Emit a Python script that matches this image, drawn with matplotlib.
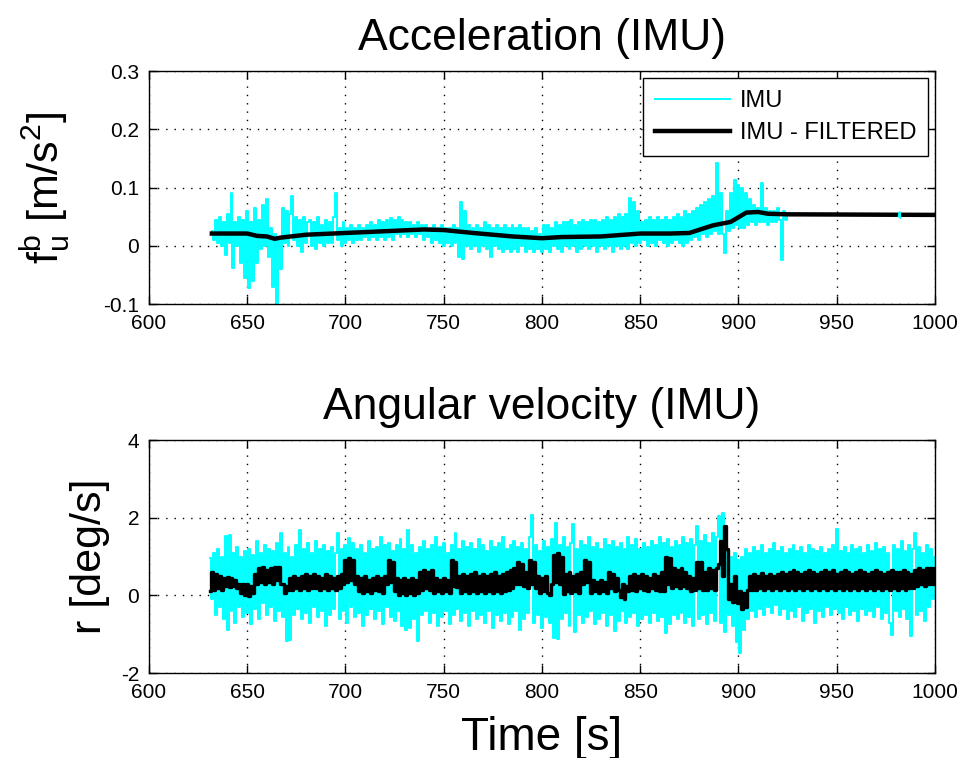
import matplotlib
matplotlib.use("Agg")
import matplotlib.pyplot as plt
import numpy as np

plt.rcParams['font.family'] = ['Liberation Sans', 'DejaVu Sans']
plt.rcParams['mathtext.default'] = 'regular'

# ---------------- data ----------------
acc_t0 = 632  # first sample time [s], samples every 1 s
acc_imu = [
    0.025, 0.01, 0.045, 0.005, 0.05, 0.0, 0.04, -0.015, 0.055, 0.005,
    0.09, -0.038, 0.04, 0.0, 0.05, -0.03, 0.045, -0.055, 0.06, -0.073,
    0.04, -0.06, 0.065, -0.03, 0.045, -0.005, 0.07, 0.0, 0.081, -0.02,
    0.03, -0.07, 0.02, -0.098, 0.015, -0.04, 0.065, 0.005, 0.06, 0.0,
    0.055, 0.086, 0.01, 0.05, 0.0, 0.045, -0.01, 0.05, 0.005, 0.04,
    0.045, 0.0, 0.04, -0.005, 0.05, 0.005, 0.035, 0.0, 0.045, 0.005,
    0.04, 0.005, 0.05, 0.091, 0.01, 0.03, 0.0, 0.04, 0.005, 0.03,
    0.01, 0.035, 0.005, 0.03, 0.01, 0.035, 0.01, 0.03, 0.015, 0.035,
    0.01, 0.04, 0.015, 0.035, 0.01, 0.045, 0.015, 0.04, 0.01, 0.045,
    0.015, 0.048, 0.01, 0.045, 0.02, 0.05, 0.015, 0.045, 0.02, 0.04,
    0.015, 0.04, 0.02, 0.035, 0.015, 0.04, 0.02, 0.035, 0.01, 0.035,
    0.015, 0.03, 0.005, 0.035, 0.01, 0.03, 0.005, 0.035, 0.0, 0.03,
    0.005, 0.03, 0.0, 0.035, 0.005, 0.03, -0.02, 0.076, -0.022, 0.06,
    0.0, 0.035, -0.005, 0.03, 0.0, 0.035, -0.01, 0.03, 0.0, 0.04,
    -0.005, 0.035, -0.02, 0.03, 0.0, 0.035, -0.005, 0.03, -0.01, 0.035,
    -0.005, 0.03, -0.01, 0.035, -0.005, 0.03, -0.01, 0.035, 0.0, 0.03,
    -0.01, 0.03, -0.005, 0.025, -0.01, 0.03, -0.005, 0.02, -0.01, 0.035,
    -0.005, 0.035, -0.01, 0.03, 0.0, 0.04, -0.005, 0.035, -0.01, 0.04,
    0.0, 0.04, -0.005, 0.045, 0.0, 0.035, -0.01, 0.04, -0.005, 0.045,
    0.0, 0.04, -0.005, 0.045, 0.0, 0.045, -0.01, 0.04, 0.0, 0.045,
    -0.005, 0.05, 0.0, 0.045, -0.01, 0.05, 0.0, 0.055, -0.005, 0.05,
    0.0, 0.055, -0.005, 0.082, 0.005, 0.075, 0.0, 0.06, 0.005, 0.04,
    0.01, 0.045, 0.0, 0.05, 0.005, 0.045, 0.0, 0.05, 0.01, 0.045,
    0.005, 0.05, 0.0, 0.045, 0.005, 0.05, 0.01, 0.055, 0.005, 0.05,
    0.0, 0.06, 0.005, 0.055, 0.01, 0.06, 0.015, 0.065, 0.01, 0.07,
    0.02, 0.075, 0.015, 0.08, 0.02, 0.085, 0.025, 0.142, 0.02, 0.09,
    0.02, -0.013, 0.06, 0.025, 0.09, 0.03, 0.113, 0.035, 0.105, 0.03,
    0.1, 0.03, 0.09, 0.035, 0.08, 0.04, 0.07, 0.035, 0.065, 0.04,
    0.108, 0.04, 0.065, 0.035, 0.06, 0.04, 0.06, 0.04, 0.065, 0.045,
    -0.025, 0.06, 0.045, 0.055,
]
acc_blip_t = [981.5, 982.0, 982.5]
acc_blip = [0.05, 0.058, 0.048]

acc_filt_t = [632, 650, 655, 660, 664, 667, 680, 700, 720, 740, 750, 765, 785,
              800, 810, 830, 850, 865, 875, 887, 896, 904, 910, 915, 925, 1000]
acc_filt = [0.021, 0.021, 0.017, 0.016, 0.012, 0.014, 0.019, 0.022, 0.025, 0.028,
            0.027, 0.022, 0.016, 0.013, 0.015, 0.016, 0.021, 0.021, 0.022, 0.035,
            0.041, 0.057, 0.058, 0.055, 0.054, 0.053]

gyr_t0 = 631  # first sample time [s], samples every 1 s
gyr_imu = [
    0.95, -0.1, 1.1, -0.5, 1.2, -0.3, 1.0, -0.6, 1.52, -0.89,
    1.56, -0.4, 1.1, -0.7, 1.25, -0.3, 1.0, -0.55, 1.15, -0.45,
    1.2, -0.75, 1.05, -0.35, 1.4, -0.6, 1.1, -0.2, 1.3, -0.5,
    1.2, -0.3, 1.15, -0.65, 1.35, -0.4, 1.6, -0.55, 1.1, -1.17,
    1.25, -1.15, 1.0, -0.5, 1.3, -0.35, 1.69, -0.6, 1.2, -0.45,
    1.35, -0.7, 1.1, -0.3, 1.4, -0.55, 1.2, -0.4, 1.3, -0.8,
    1.15, -0.5, 1.25, -0.35, 1.1, 1.6, -0.6, 1.2, -0.4, 1.3,
    -0.7, 1.47, -0.3, 1.35, -0.55, 1.2, -0.45, 1.3, -0.8, 1.1,
    -0.5, 1.4, -0.35, 1.2, -0.6, 1.25, -0.4, 1.5, -0.75, 1.3,
    -0.3, 1.35, -0.55, 1.15, -0.65, 1.3, -0.4, 1.45, -0.8, 1.2,
    -0.9, 1.69, -0.85, 1.3, -0.6, 1.1, -1.17, 1.25, -0.5, 1.4,
    -0.4, 1.2, -0.7, 1.3, -0.45, 1.5, -0.8, 1.25, -0.55, 1.35,
    -0.4, 1.1, -0.75, 1.3, -0.5, 1.6, -0.35, 1.2, -0.65, 1.4,
    -0.45, 1.25, -0.8, 1.35, -0.4, 1.2, -0.6, 1.45, -0.5, 1.3,
    -0.7, 1.15, -0.4, 1.4, -0.85, 1.25, -0.5, 1.35, -0.65, 1.5,
    -0.45, 1.2, -0.75, 1.3, -0.55, 1.4, -0.4, 1.25, -0.9, 1.35,
    -0.6, 1.2, -0.45, 1.5, 2.07, -0.7, 1.3, -0.5, 1.15, -0.85,
    1.4, -0.55, 1.25, -0.7, 1.45, -1.1, 1.86, -1.13, 1.3, -0.6,
    1.5, -0.45, 1.25, -0.8, 1.35, 1.83, -0.95, 1.2, -0.5, 1.4,
    -0.7, 1.3, -0.55, 1.5, -0.4, 1.25, -0.75, 1.35, -0.6, 1.2,
    -0.45, 1.45, -0.8, 1.3, -0.5, 1.4, -0.93, 1.25, -0.65, 1.35,
    -0.4, 1.2, -0.7, 1.5, -0.55, 1.3, -0.45, 1.45, -0.8, 1.2,
    -0.6, 1.35, -0.5, 1.25, -0.7, 1.4, -0.45, 1.3, -0.65, 1.5,
    -0.55, 1.35, -0.96, 1.45, -0.75, 1.25, -0.5, 1.4, -0.6, 1.3,
    -0.45, 1.5, -0.7, 1.35, -0.55, 1.45, -0.8, 1.3, 1.78, -0.6,
    1.4, -0.5, 1.55, -0.75, 1.35, -0.45, 1.6, -0.65, 1.5, 2.05,
    -0.7, 2.13, -0.95, 1.2, -0.5, 1.0, -0.8, 1.1, -1.2, 0.9,
    -1.48, 1.0, -0.9, 1.2, -0.6, 1.1, -0.4, 1.25, -0.55, 1.15,
    -0.35, 1.3, -0.5, 1.1, -0.3, 1.2, -0.45, 1.35, -0.25, 1.15,
    -0.5, 1.25, -0.35, 1.1, -0.6, 1.2, -0.4, 1.3, -0.55, 1.15,
    -0.3, 1.25, -0.65, 1.1, -0.45, 1.3, -0.35, 1.2, -0.7, 1.15,
    -0.4, 1.25, -0.55, 1.1, -0.3, 1.2, -0.5, 1.3, -0.35, 1.7,
    -0.45, 1.15, -0.6, 1.25, -0.3, 1.1, -0.5, 1.3, -0.4, 1.2,
    -0.65, 1.25, -0.35, 1.1, -0.5, 1.3, -0.4, 1.15, -0.55, 1.35,
    -0.3, 1.2, -0.6, 1.25, -0.45, 1.1, -0.7, -1.02, 1.3, -0.4,
    1.2, -0.55, 1.4, -0.35, 1.15, -0.6, 1.3, -1.04, 1.2, 1.6,
    -0.5, 1.25, -0.4, 1.1, -0.65, 1.3, -0.3, 1.2, -0.1, 1.0,
]
gyr_filt = [
    0.1, 0.6, 0.15, 0.55, 0.2, 0.5, 0.15, 0.45, 0.25, 0.48,
    0.22, 0.45, 0.25, 0.4, 0.2, 0.3, 0.05, 0.28, 0.0, 0.3,
    -0.02, 0.25, 0.05, 0.55, 0.3, 0.7, 0.35, 0.74, 0.3, 0.65,
    0.35, 0.7, 0.3, 0.74, 0.4, 0.72, 0.3, 0.3, 0.05, 0.25,
    0.13, 0.45, 0.15, 0.5, 0.2, 0.45, 0.15, 0.5, 0.18, 0.55,
    0.15, 0.5, 0.2, 0.55, 0.18, 0.5, 0.15, 0.45, 0.2, 0.55,
    0.15, 0.5, 0.2, 0.45, 0.13, 0.5, 0.18, 0.55, 0.3, 0.9,
    0.35, 0.96, 0.4, 0.9, 0.3, 0.5, 0.1, 0.45, 0.05, 0.5,
    0.1, 0.4, 0.05, 0.45, 0.15, 0.5, 0.1, 0.45, 0.05, 0.5,
    0.3, 0.91, 0.35, 0.85, 0.1, 0.45, 0.0, 0.4, 0.05, 0.45,
    0.0, 0.4, 0.05, 0.45, 0.0, 0.4, 0.05, 0.6, 0.15, 0.65,
    0.2, 0.6, 0.15, 0.65, 0.05, 0.45, 0.1, 0.4, 0.05, 0.45,
    0.1, 0.4, 0.05, 0.91, 0.25, 0.85, 0.22, 0.5, 0.05, 0.55,
    0.1, 0.5, 0.05, 0.55, 0.1, 0.6, 0.05, 0.5, 0.1, 0.55,
    0.05, 0.5, 0.1, 0.55, 0.05, 0.6, 0.1, 0.5, 0.05, 0.55,
    0.1, 0.6, 0.15, 0.65, 0.2, 0.7, 0.3, 0.87, 0.3, 0.8,
    0.25, 0.6, 0.2, 0.91, 0.3, 0.85, 0.2, 0.5, 0.05, 0.45,
    0.1, 0.5, 0.05, 0.0, 0.3, 1.05, 0.35, 1.09, 0.3, 1.0,
    0.04, 0.55, 0.1, 0.6, 0.05, 0.5, 0.1, 0.55, 0.05, 0.6,
    0.3, 0.91, 0.35, 0.85, 0.05, 0.4, 0.1, 0.35, 0.05, 0.4,
    0.1, 0.35, 0.05, 0.6, 0.2, 0.55, 0.1, 0.45, 0.15, -0.05,
    0.3, -0.09, 0.25, 0.1, 0.5, 0.15, 0.55, 0.1, 0.5, 0.2,
    0.55, 0.15, 0.5, 0.1, 0.45, 0.2, 0.55, 0.15, 0.5, 0.1,
    0.6, 0.1, 1.0, 0.3, 0.95, 0.2, 0.7, 0.25, 0.65, 0.2,
    0.7, 0.25, 0.6, 0.2, 0.5, 0.1, 0.45, 0.15, 0.85, 0.2,
    0.87, 0.15, 0.6, 0.13, 0.7, 0.2, 0.65, 0.15, 0.7, 0.8,
    1.4, 0.5, 1.78, 1.2, -0.1, 0.3, -0.17, 0.5, 0.0, -0.2,
    0.1, -0.35, 0.05, -0.3, 0.15, 0.5, 0.15, 0.55, 0.13, 0.5,
    0.2, 0.57, 0.15, 0.5, 0.2, 0.55, 0.15, 0.5, 0.2, 0.55,
    0.15, 0.6, 0.2, 0.55, 0.15, 0.6, 0.2, 0.65, 0.15, 0.6,
    0.2, 0.55, 0.15, 0.6, 0.2, 0.65, 0.15, 0.6, 0.2, 0.55,
    0.15, 0.6, 0.2, 0.65, 0.15, 0.6, 0.2, 0.65, 0.15, 0.55,
    0.2, 0.6, 0.15, 0.65, 0.2, 0.6, 0.15, 0.55, 0.2, 0.6,
    0.15, 0.65, 0.2, 0.6, 0.15, 0.55, 0.2, 0.6, 0.15, 0.65,
    0.2, 0.6, 0.15, 0.55, 0.2, 0.6, 0.15, 0.65, 0.2, 0.6,
    0.15, 0.6, 0.2, 0.65, 0.15, 0.6, 0.2, 0.55, 0.2, 0.65,
    0.25, 0.7, 0.3, 0.65, 0.25, 0.7, 0.3, 0.7, 0.3, 0.7,
]

x_ticks = [600, 650, 700, 750, 800, 850, 900, 950, 1000]
acc_yticks = [-0.1, 0, 0.1, 0.2, 0.3]
acc_yticklabels = ['-0.1', '0', '0.1', '0.2', '0.3']
gyr_yticks = [-2, 0, 2, 4]
gyr_yticklabels = ['-2', '0', '2', '4']

# ---------------- figure ----------------
acc_time = acc_t0 + np.arange(len(acc_imu))
gyr_time = gyr_t0 + np.arange(len(gyr_imu))

fig = plt.figure(figsize=(9.63, 7.58), dpi=100)
ax1 = fig.add_axes([0.1547, 0.5989, 0.8162, 0.3074])
ax2 = fig.add_axes([0.1547, 0.1121, 0.8162, 0.3074])

cyan = '#00FFFF'
ax1.plot(acc_time, acc_imu, color=cyan, lw=1.4, drawstyle='steps-mid', label='IMU')
ax1.plot(acc_filt_t, acc_filt, color='black', lw=3.2, label='IMU - FILTERED')
ax1.plot(acc_blip_t, acc_blip, color=cyan, lw=1.4, zorder=5)

ax2.plot(gyr_time, gyr_imu, color=cyan, lw=1.4, drawstyle='steps-mid')
ax2.plot(gyr_time, gyr_filt, color='black', lw=2.4, drawstyle='steps-mid')

for ax, yt, ytl, ylim in [(ax1, acc_yticks, acc_yticklabels, (-0.1, 0.3)),
                          (ax2, gyr_yticks, gyr_yticklabels, (-2, 4))]:
    ax.set_xlim(600, 1000)
    ax.set_ylim(*ylim)
    ax.set_xticks(x_ticks)
    ax.set_xticklabels([str(v) for v in x_ticks])
    ax.set_yticks(yt)
    ax.set_yticklabels(ytl)
    ax.tick_params(direction='in', length=6, width=1.0, top=True, right=True,
                   labelsize=15, pad=7, colors='black')
    ax.grid(True, color='black', linestyle=(0, (1, 5)), linewidth=1.0)
    for s in ax.spines.values():
        s.set_linewidth(1.0)
        s.set_color('black')

ax1.set_title('Acceleration (IMU)', fontsize=32, pad=15)
ax2.set_title('Angular velocity (IMU)', fontsize=32, pad=15)
ax2.set_xlabel('Time [s]', fontsize=33, labelpad=10)
ax1.set_ylabel(r'$f_u^b$ [m/s$^2$]', fontsize=31)
ax2.set_ylabel('r [deg/s]', fontsize=31)
ax1.yaxis.set_label_coords(-0.098, 0.5)
ax2.yaxis.set_label_coords(-0.05, 0.5)

leg = ax1.legend(loc='upper right', bbox_to_anchor=(0.991, 0.97), borderaxespad=0,
                 fancybox=False, edgecolor='black', framealpha=1, fontsize=17,
                 handlelength=3.2, handletextpad=0.4, borderpad=0.5, labelspacing=0.45)
leg.get_frame().set_linewidth(1.0)

fig.savefig('out.png', dpi=100)
